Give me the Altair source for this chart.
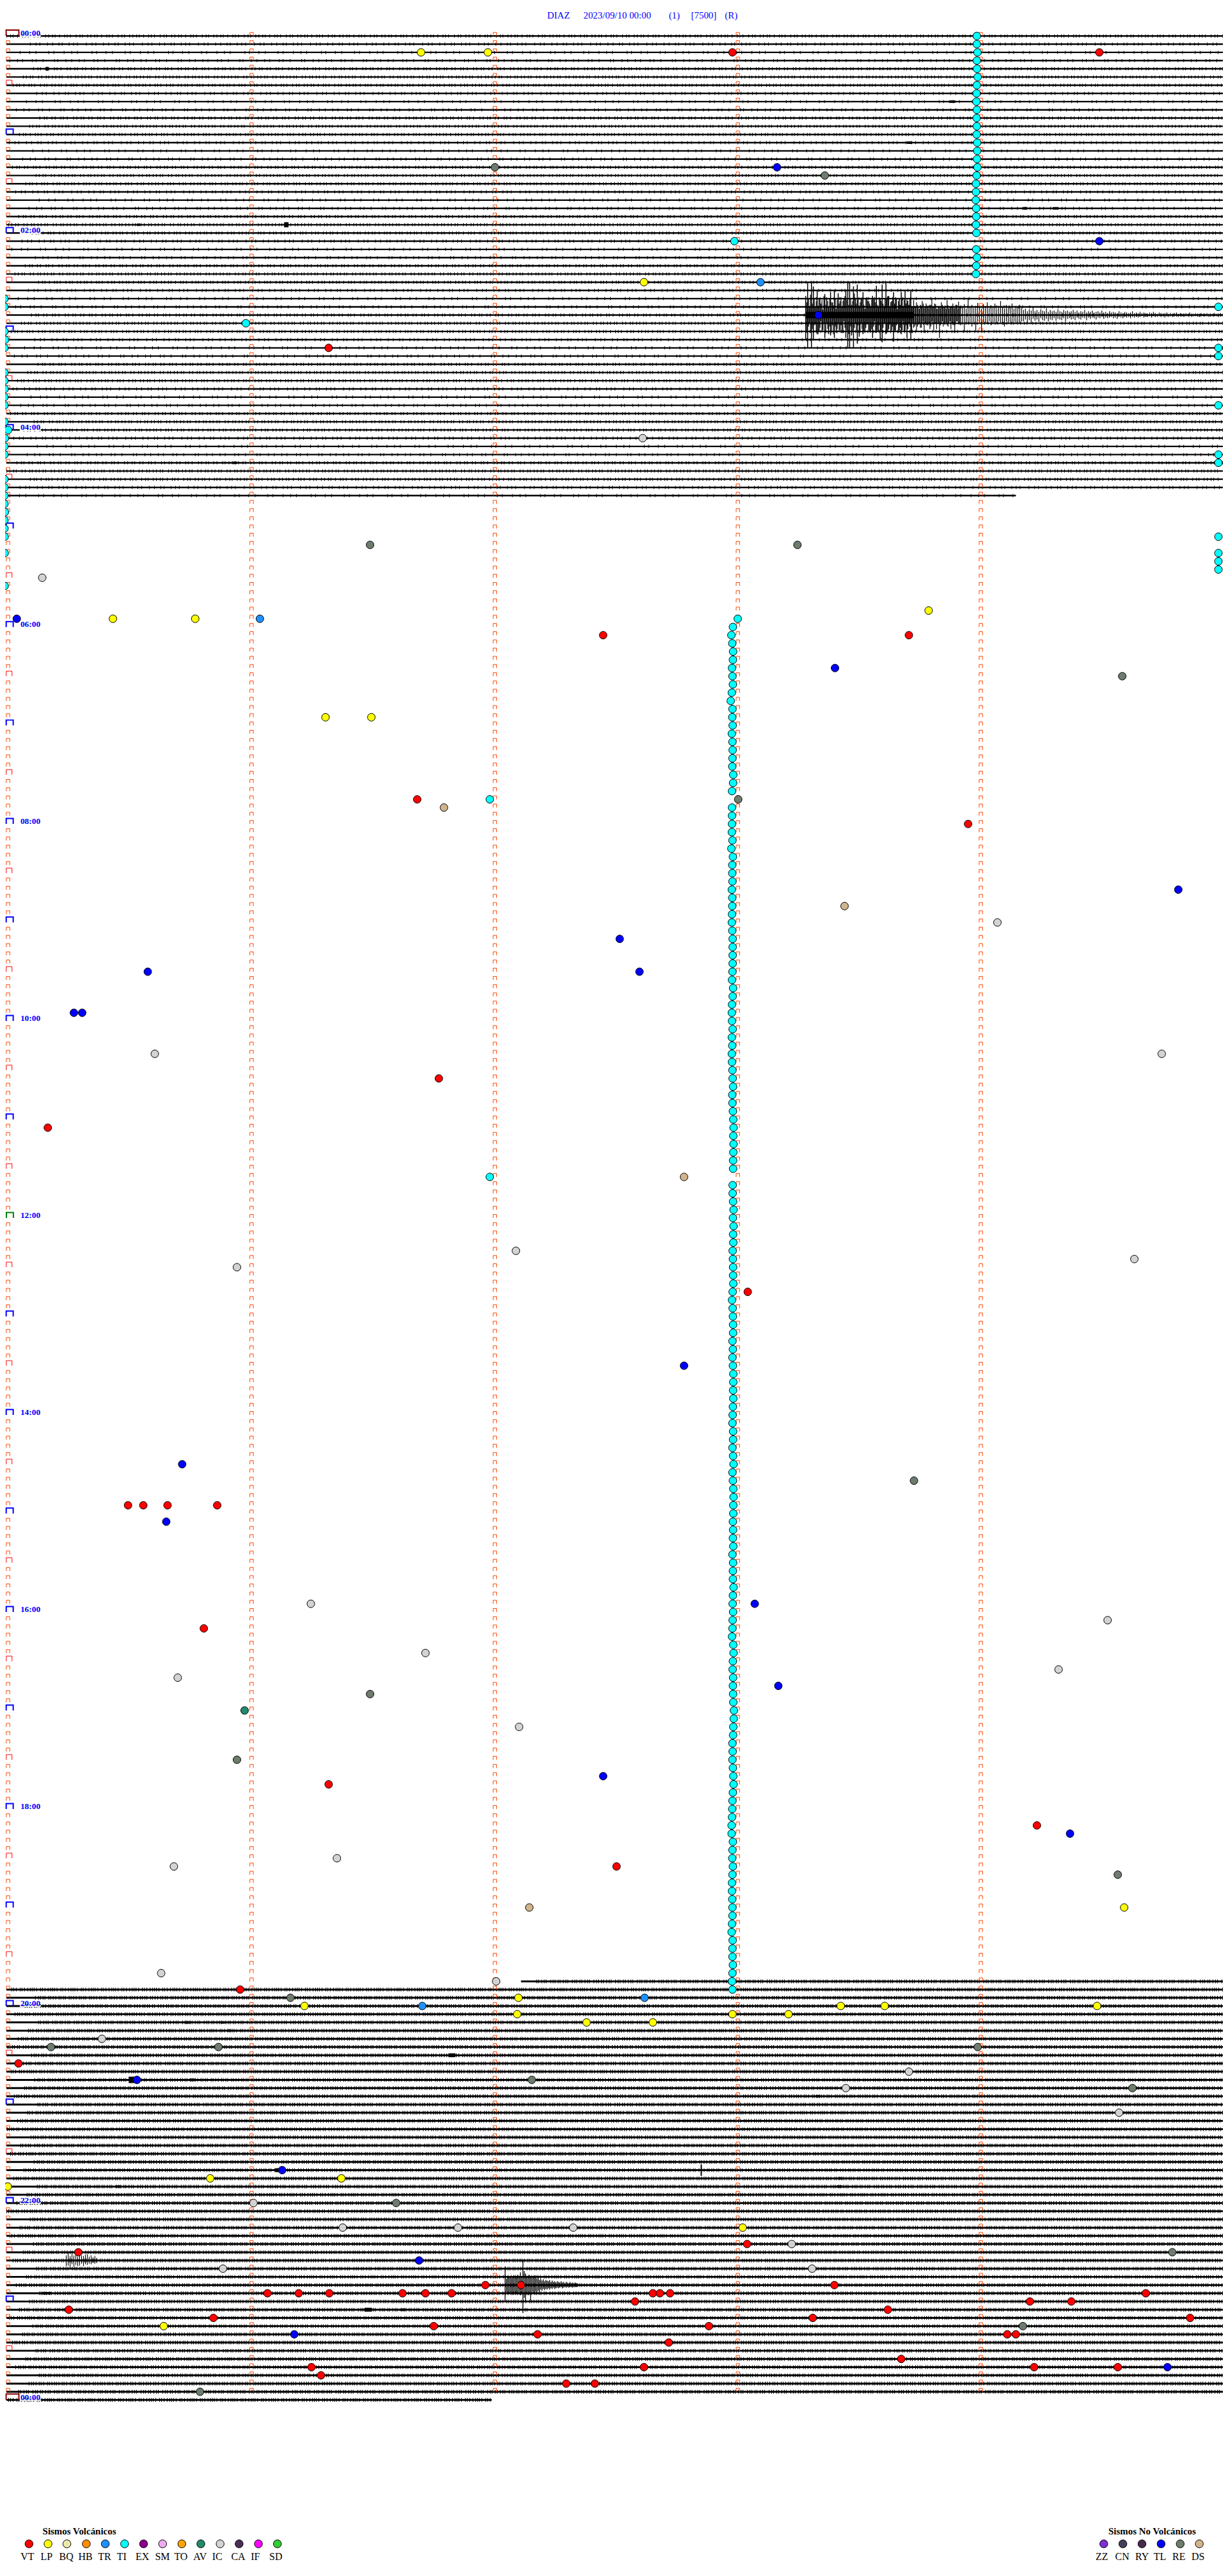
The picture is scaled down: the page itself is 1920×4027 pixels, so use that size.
import altair as alt
import pandas as pd

ROW0, ROW_H = 56.0, 12.886
X0, X1, Y0, Y1 = 8, 1920, 16, 4026

def r(y):
    return (y - ROW0) / ROW_H

# --- type colours -----------------------------------------------------------
volc_codes = ["VT","LP","BQ","HB","TR","TI","EX","SM","TO","AV","IC","CA","IF","SD"]
volc_colors = ["#ff0000","#ffff00","#eee8aa","#ff8c00","#1e90ff","#00ffff","#8b008b","#eeaaee","#ffa500","#228b6e","#d3d3d3","#4b2e56","#ff00ff","#32cd32"]
volc_dot_x = [45.5,75.4,105,135.5,165.3,195.6,225.4,255.3,285.5,315.3,345.6,375.4,405.7,435.5]
volc_lab_x = [43,73,104,134,164,191,223.5,255,284,314,341,374,401,433]
non_codes = ["ZZ","CN","RY","TL","RE","DS"]
non_colors = ["#7d2fd0","#483d5b","#4a2a50","#0000ff","#6e7b6e","#d2b48c"]
non_dot_x = [1733,1763,1793,1823,1853,1883]
non_lab_x = [1730,1762,1793,1821,1851,1881]

# --- events: parallel x / row lists for each type ---------------------------
vt_x = [1150,1726,516,947,1427,655,1520,689,75,1174,201,225,263,341,320,516,1628,968,377,29,1173,123,1310,762,818,420,469,517,632,668,709,1025,1036,1052,1799,997,1617,1682,108,1394,335,1276,1868.5,681,1113,844,1581.5,1595,1050,1415,489,1011,1623.6,1755,504,889,934]
vt_row = [2,2,38,73,73,93,96,127,133,153,179,179,179,179,194,213,218,223,238,247,269,270,274,274,274,275,275,275,275,275,275,275,275,275,275,276,276,276,277,277,278,278,278,279,279,280,280,280,281,283,284,284,284,284,285,286,286]
lp_x = [661,766,1011,1458,177.3,306.5,511,583,1765,814,478,1320,1389,1722.5,812,1150,1238,921,1025,330,536,12.2,1166,257]
lp_row = [2,2,30,70,71,71,83,83,228,239,240,240,240,240,241,241,241,242,242,261,261,262,267,279]
tr_x = [1194,408,1012,663]
tr_row = [30,71,239,240]
tl_x = [1220,1726,1285,26.3,1311,1850,973,1004,232,116,129,1074,286,261,1185,1222,947,1680,215,443,658,462,1833]
tl_row = [16,25,34,71,77,104,110,114,114,119,119,162,174,181,191,201,212,219,249,260,271,280,284]
re_x = [777,1295,581,1252,1762,1159,1435,581,372,1755,456,80,343,1535,835,1778,622,1840.6,1606,314]
re_row = [16,17,62,62,78,93,176,202,210,224,239,245,245,245,249,250,264,270,279,287]
ic_x = [1009,66.3,1566,243,1824,810,1781,372,488,1739,668,1662,279,815,529,273,253,779,160,1427,1328,1757,398,538,719,900,1243,350,1275]
ic_row = [49,66,108,124,124,148,149,150,191,193,197,199,200,206,222,223,236,237,244,248,250,253,264,267,267,267,269,272,272]
ds_x = [697,1326,1074,831]
ds_row = [94,106,139,228]
av_x = [384]
av_row = [204]

# tremor (TI) — single events
ti_x = [1153,386,769,769,1913,1913,1913,1913,1913,1913,1913,1913,1913,1913]
ti_row = [25,35,93,139,33,38,39,45,51,52,61,63,64,65]
# tremor — left-hand run
til_row = [32,33,36,37,38,41,42,43,44,45,47,48,49,50,51,54,55,56,57,58,59,60,61,63,67]
til_x = [7,7,7,8,7,7,7,7.3,7,7,7,12.7,7.7,7,7,7,7,7,7,7.7,7,7,7.3,7.3,7.3]
# tremor — right column, rows 0-24 and 26-29
tia_row = list(range(0,25)) + [26,27,28,29]
tia_x = [1533.7,1533.7,1534.7,1533.7,1534,1535,1533.7,1533.3,1533,1533.7,1533.3,1533.7,1533.3,1534.3,1534.3,1534,1534.7,1533.3,1532.3,1532.3,1532,1532.7,1532.7,1532.3,1533,1532.7,1534,1532.7,1532.3]
# tremor — long column, rows 71-92
tib_x = [1158.3,1150.7,1148.3,1149.7,1151,1150.7,1149.3,1150,1150.7,1149,1147.3,1150,1149.7,1150.3,1149,1150,1150.3,1150,1149.7,1151.3,1151,1149.3]
# rows 94-138
tic_x = [1149.3,1149.3,1149.3,1149,1150,1148.3,1150.7,1149.7,1149.7,1150,1149,1149.7,1149.7,1149.3,1149,1149.7,1150.3,1150.3,1150.3,1150.3,1150,1149.3,1151,1150.3,1149.3,1149,1149.3,1150.3,1149,1149.7,1149,1149.3,1150,1150.3,1151,1149.7,1150,1150.7,1151.3,1151.7,1151.3,1151.7,1151.3,1151,1151]
# rows 140-238
tid_x = [1150.3,1150.3,1151,1151.7,1150.7,1151.7,1151,1151.3,1150.3,1150.7,1151,1151,1151.3,1150.3,1149.3,1150.3,1150.7,1151,1151,1150,1150.7,1150,1150.7,1151.3,1151.3,1151,1151.3,1150.7,1150.3,1150,1151,1151,1150,1151,1151.7,1150,1150.7,1151.3,1151.7,1151.3,1151.3,1150.7,1151,1150.7,1151.3,1150,1151,1150.7,1150.7,1151.7,1150.7,1150.3,1151,1150.3,1150,1149.3,1151.3,1151.7,1150.7,1150.3,1151,1150.7,1151,1151.3,1152.3,1152,1151.3,1151,1150,1150.3,1150,1150.7,1151.3,1151.7,1150.7,1150,1149.7,1149.3,1148.7,1148.7,1150.7,1150,1149.7,1150.7,1150,1149.3,1149.3,1149.7,1150,1150,1149.3,1148.7,1150.3,1150,1150,1150.7,1150,1149.3,1150]

# --- hour labels ------------------------------------------------------------
hour_rows = [0,24,48,72,96,120,144,168,192,216,240,264,288]
hour_text = ["00:00","02:00","04:00","06:00","08:00","10:00","12:00","14:00","16:00","18:00","20:00","22:00","00:00"]

# --- seismogram traces ------------------------------------------------------
full_rows = list(range(0,56)) + list(range(238,288))
part_rows = [56,237,288]
part_x0 = [10,818,10]
part_x1 = [1595,1920,772]

# large event, row 34, one sample every 3 px from x=1265
ev_up = [30,51,14,51,45,12,38,26,18,9,33,26,12,36,20,38,10,34,22,14,26,40,51,51,16,45,26,48,12,26,36,10,28,22,14,30,24,46,12,26,48,14,50,30,12,22,36,28,10,26,36,14,38,24,16,38,12,
         14,20,12,16,22,11,18,13,16,26,12,17,10,14,20,12,15,24,10,14,18,11,16,21,13,12,17,10,26,13,16,11,14,19,12,10,17,13,20,11,15,12,18,10,14,22,12,10,16,11,13,18,10,14,12,16,11,
         8,10,6,9,7,12,6,8,5,9,7,6,11,5,8,6,7,5,9,6,5,8,6,7,5,6,8,5,7,4,6,5,8,4,6,5,7,4,5,6,4,7,4,5,3,6,4,5,4,3,6,4,3,5,4,3,4,6,3,4,3,5,3,4,3,2,4,3,5,3,2,4,3,2,3,4,2,3,2,3,4,2,3,2,2,3,2,4,2,2,3,2,2,3,2,2,3,2,2,2,3,2,2,3,2,2,2]
ev_dn = [38,51,12,51,40,14,30,26,10,24,36,12,30,32,16,36,28,12,24,28,10,36,51,51,32,51,14,45,34,12,30,28,14,24,26,36,10,28,26,40,43,12,30,26,14,24,42,26,12,24,30,10,24,36,14,40,12,
         18,26,14,20,12,28,13,16,22,11,24,14,12,36,14,18,11,16,12,22,14,28,10,12,16,11,27,13,12,14,18,11,24,10,13,26,11,12,14,10,16,12,11,14,10,12,15,18,10,12,11,14,10,12,11,13,10,
         10,7,12,8,14,6,9,7,11,5,8,9,6,10,7,8,5,9,6,7,8,5,10,6,5,7,6,8,4,6,7,4,5,8,4,6,4,5,7,4,5,3,6,4,5,4,3,5,4,6,3,4,5,3,4,3,5,3,4,3,4,3,2,4,3,3,2,4,2,3,3,2,3,2,4,2,3,2,3,2,2,3,2,2,3,2,2,2,3,2,2,2,3,2,2,2,2,3,2,2,2,2,3,2,2,2,2]
# infill samples between the ones above, first 240 px of the event
fill_up = [20,26,32,18,26,22,14,28,24,30,16,22,26,20,14,26,24,18,28,22,30,24,16,26,22,34,18,24,20,28,16,26,22,18,24,26,20,16,28,22,18,26,24,30,20,24,18,26,22,16,26,24,18,22,26,14,24,
           12,16,10,14,18,12,15,10,16,12,18,10,14,11,16,12,10,15,12,14,11,16,10,12]
fill_dn = [24,18,28,22,16,26,30,20,26,14,28,22,18,24,30,18,22,26,16,28,20,24,30,18,26,20,24,16,28,22,26,20,14,26,22,18,28,24,16,26,20,14,28,22,26,18,24,16,28,20,24,26,16,22,18,28,20,
           14,18,12,20,10,14,16,12,18,10,14,22,12,16,10,14,12,18,10,12,16,11,10,13]
# event, row 274, one sample every 2 px from x=793
ev2_up = [29,10,13,12,14,11,13,15,12,14,16,13,20,12,38,22,18,14,12,16,13,11,14,15,12,10,12,8,10,7,9,6,8,7,6,8,5,7,5,6,4,6,5,4,6,4,5,3,5,4,3,5,3,4,3,4,3,3]
ev2_dn = [26,11,13,14,12,13,15,12,14,13,12,15,16,14,44,20,26,13,16,12,24,10,13,12,10,12,9,11,7,9,6,8,6,7,5,7,5,6,4,6,5,4,5,4,3,5,4,3,4,3,4,3,3,4,3,3,3,3]
# event, row 271, one sample every 3 px from x=103
ev3_up = [8,12,7,10,8,11,6,9,8,7,9,10,6,8,5,7,4]
ev3_dn = [9,8,12,6,10,7,9,8,5,9,6,7,5,6,4,5,4]
# short bursts
burst_row = [34,4,23,23,8,13,21,21,52,249,249,260,246,242,242,243,262,277,277,275,261,262,264,251,260,260]
burst_x0 = [1265,72,215,446,1490,1424,1605,1653,364,202,297,432,705,291,347,357,181,572,628,66,1316,1314,1018,1281,1100,1100]
burst_x1 = [1434,76,220,453,1500,1432,1613,1662,372,212,307,442,715,299,353,362,189,584,636,80,1322,1322,1024,1287,1140,1102]
burst_amp = [5,3,2,4,2,2,2,2,2,5,2,3,3,2,2,2,2,3,2,2,2,2,2,2,1.5,9]

# --- dash styles used for the fine texture of the traces --------------------
dash_names = ["a","b","c","d","e","f","h1","h2","h3","h4","h5"]
dash_ranges = [
    [1,5,1,3,1,6,1,7,1,3,1,4,1,8,1,5,1,3,1,7,1,4],
    [1,8,1,5,1,11,1,7,1,9,1,4,1,10,1,6,1,5,1,13],
    [1,14,1,9,1,19,1,7,1,15,1,11,1,8,1,22,1,6],
    [1,11,1,7,1,14,1,5,1,10,1,17,1,4,1,12,1,8],
    [1,6,1,3,1,7,1,4,1,8,1,3,1,5,1,9,1,4],
    [1,4,1,5,1,3,1,8,1,4,1,6,1,3,1,5],
    [1,2,1,3,1,2,1,4,1,2,1,5,1,3,1,3,1,4],
    [1,3,1,2,1,3,1,4,1,2,1,3,1,5,1,2,1,3],
    [1,2,1,4,1,3,1,2,1,6,1,3,1,2,1,4],
    [1,2,1,3,1,5,1,2,1,3,1,4,1,3,1,2],
    [1,4,1,2,1,3,1,2,1,5,1,2,1,3,1,3],
]
top_cycle = ["a","b","c","d","e","f"]
low_cycle = ["h1","h2","h3","h4","h5"]

# ---------------------------------------------------------------------------
X = lambda f: alt.X(f, type="quantitative", axis=None, scale=alt.Scale(domain=[X0, X1], range=[0, X1 - X0]))
Y = lambda f: alt.Y(f, type="quantitative", axis=None, scale=alt.Scale(domain=[r(Y0), r(Y1)], range=[0, Y1 - Y0]))

# traces
trace_rows = full_rows + part_rows
trace_x0 = [10] * len(full_rows) + part_x0
trace_x1 = [1920] * len(full_rows) + part_x1
traces = pd.DataFrame({"row": trace_rows, "x0": trace_x0, "x1": trace_x1, "w": [3 if ro >= 237 else 2.4 for ro in trace_rows]})
lines = alt.Chart(traces).mark_rule(color="black").encode(
    x=X("x0"), x2="x1", y=Y("row"), strokeWidth=alt.StrokeWidth("w:Q", scale=None, legend=None))

fuzz_rows = []
for row, a, b in zip(trace_rows, trace_x0, trace_x1):
    low = row >= 237
    fuzz_rows.append({
        "row": row,
        "x0": a + (row * 37) % 53,
        "x1": b,
        "dash": low_cycle[row % 5] if low else top_cycle[row % 6],
        "w": 6 if low else 5,
    })
fuzz = alt.Chart(pd.DataFrame(fuzz_rows)).mark_rule(color="black").encode(
    x=X("x0"), x2="x1", y=Y("row"),
    strokeWidth=alt.StrokeWidth("w:Q", scale=None, legend=None),
    strokeDash=alt.StrokeDash("dash:N", scale=alt.Scale(domain=dash_names, range=dash_ranges), legend=None),
)

# waveform spikes
sp = []
for i, (u, d) in enumerate(zip(ev_up, ev_dn)):
    sp.append({"x": 1265 + 3 * i, "y": 34 - u / ROW_H, "y2": 34 + d / ROW_H, "w": 1.5 if i < 57 else 1.2})
for i, (u, d) in enumerate(zip(fill_up, fill_dn)):
    sp.append({"x": 1266.5 + 3 * i, "y": 34 - u / ROW_H, "y2": 34 + d / ROW_H, "w": 1.2})
for i, (u, d) in enumerate(zip(ev2_up, ev2_dn)):
    sp.append({"x": 793 + 2 * i, "y": 274 - u / ROW_H, "y2": 274 + d / ROW_H, "w": 1.3})
for i, (u, d) in enumerate(zip(ev3_up, ev3_dn)):
    sp.append({"x": 104 + 3 * i, "y": 271 - u / ROW_H, "y2": 271 + d / ROW_H, "w": 1.1})
spikes = alt.Chart(pd.DataFrame(sp)).mark_rule(color="black").encode(
    x=X("x"), y=Y("y"), y2="y2", strokeWidth=alt.StrokeWidth("w:Q", scale=None, legend=None))

bursts = alt.Chart(pd.DataFrame([
    {"x0": a, "x1": b, "y": ro - m / ROW_H, "y2": ro + m / ROW_H}
    for ro, a, b, m in zip(burst_row, burst_x0, burst_x1, burst_amp)
])).mark_rect(color="black").encode(x=X("x0"), x2="x1", y=Y("y"), y2="y2")

# row tick marks
def box(xs, rows, path, size, color, sw):
    df = pd.DataFrame({"x": xs, "row": rows})
    return alt.Chart(df).mark_point(shape=path, size=size, filled=False, stroke=color, strokeWidth=sw, opacity=1).encode(x=X("x"), y=Y("row"))

ORANGE = "#ff4500"
small_path = "M -1 0 L -1 -2.04 L 1 -2.04 L 1 0"
col_x = [395, 777, 1158.5, 1540]
cols_x, cols_r = [], []
for c in col_x:
    for ro in range(0, 288):
        cols_x.append(c)
        cols_r.append(ro)
left_r = [ro for ro in range(1, 288) if ro % 6 != 0]
red_r = list(range(6, 288, 12))
blue_r = [ro for ro in range(12, 288, 12) if ro != 144]
marks = [
    box(cols_x, cols_r, small_path, 29, ORANGE, 1),
    box([12.6] * len(left_r), left_r, small_path, 29, ORANGE, 1),
    box([14.3] * len(red_r), red_r, "M -1 0 L -1 -1.78 L 1 -1.78 L 1 0", 81, "#ff0000", 1),
    box([15.2] * len(blue_r), blue_r, "M -1 0 L -1 -1.55 L 1 -1.55 L 1 0", 121, "#0000ff", 2),
    box([15.5], [144], "M -1 0 L -1 -1.55 L 1 -1.55 L 1 0", 121, "#008000", 2),
    box([19.6, 19.6], [0, 288], "M -1 0 L -1 -0.93 L 1 -0.93 L 1 0", 400, "#8b0000", 2),
]

# hour labels
hours = pd.DataFrame({"row": hour_rows, "t": hour_text, "x0": [31] * 13, "x1": [64] * 13, "x": [32] * 13})
hour_bg = alt.Chart(hours).mark_rule(color="white", strokeWidth=3).encode(x=X("x0"), x2="x1", y=Y("row"))
hour_lab = alt.Chart(hours).mark_text(font="Liberation Serif", fontWeight="bold", fontSize=13.5, color="#0000ff", align="left", baseline="alphabetic").encode(x=X("x"), y=Y("row"), text="t:N")

# event dots
def frame(code, xs, rows):
    return pd.DataFrame({"code": code, "x": xs, "row": rows})

ev = pd.concat([
    frame("TI", tia_x, tia_row),
    frame("TI", tib_x, list(range(71, 93))),
    frame("TI", tic_x, list(range(94, 94 + len(tic_x)))),
    frame("TI", tid_x, list(range(140, 140 + len(tid_x)))),
    frame("TI", til_x, til_row),
    frame("TI", ti_x, ti_row),
    frame("VT", vt_x, vt_row), frame("LP", lp_x, lp_row), frame("TR", tr_x, tr_row),
    frame("TL", tl_x, tl_row), frame("RE", re_x, re_row), frame("IC", ic_x, ic_row),
    frame("DS", ds_x, ds_row), frame("AV", av_x, av_row),
])
all_codes = volc_codes + non_codes
all_colors = volc_colors + non_colors
fill_scale = alt.Scale(domain=all_codes, range=all_colors)
dots = alt.Chart(ev).mark_point(filled=True, size=144, stroke="black", strokeWidth=1, opacity=1).encode(
    x=X("x"), y=Y("row"), fill=alt.Fill("code:N", scale=fill_scale, legend=None))

# legends
leg = pd.DataFrame({"code": all_codes, "x": volc_dot_x + non_dot_x, "row": r(3993)})
leg_dots = alt.Chart(leg).mark_point(filled=True, size=156, stroke="black", strokeWidth=1, opacity=1).encode(
    x=X("x"), y=Y("row"), fill=alt.Fill("code:N", scale=fill_scale, legend=None))
leg_lab_df = pd.DataFrame({"t": all_codes, "x": volc_lab_x + non_lab_x, "row": r(4018)})
leg_lab = alt.Chart(leg_lab_df).mark_text(font="Liberation Serif", fontSize=16, color="black", align="center", baseline="alphabetic").encode(x=X("x"), y=Y("row"), text="t:N")
leg_title_df = pd.DataFrame({"t": ["Sismos Volcánicos", "Sismos No Volcánicos"], "x": [124.5, 1809], "row": r(3978)})
leg_title = alt.Chart(leg_title_df).mark_text(font="Liberation Serif", fontWeight="bold", fontSize=15, color="black", align="center", baseline="alphabetic").encode(x=X("x"), y=Y("row"), text="t:N")

# header
head_df = pd.DataFrame({"t": ["DIAZ", "2023/09/10 00:00", "(1)", "[7500]", "(R)"], "x": [859, 916, 1050, 1085, 1138], "row": r(29)})
head = alt.Chart(head_df).mark_text(font="Liberation Serif", fontSize=15, color="#0000ff", align="left", baseline="alphabetic").encode(x=X("x"), y=Y("row"), text="t:N")

chart = alt.layer(lines, fuzz, bursts, spikes, *marks, hour_bg, hour_lab, dots, leg_dots, leg_lab, leg_title, head).properties(
    width=X1 - X0, height=Y1 - Y0,
    autosize=alt.AutoSizeParams(type="none"), padding=0, background="white",
).configure_view(stroke=None)

chart.save("out.html", embed_options={"renderer": "svg", "actions": False})
